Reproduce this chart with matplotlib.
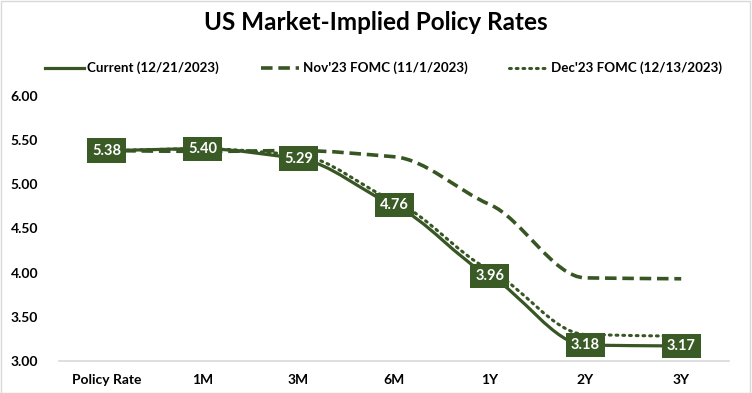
import matplotlib
matplotlib.use("Agg")
import matplotlib.pyplot as plt
from matplotlib.path import Path
from matplotlib.patches import PathPatch
from matplotlib.lines import Line2D
import numpy as np

plt.rcParams['font.family'] = ['Lato', 'DejaVu Sans']

categories = ["Policy Rate", "1M", "3M", "6M", "1Y", "2Y", "3Y"]
current = [5.38, 5.40, 5.29, 4.76, 3.96, 3.18, 3.17]
nov23 = [5.38, 5.37, 5.38, 5.31, 4.77, 3.94, 3.93]
dec23 = [5.38, 5.40, 5.33, 4.81, 4.03, 3.30, 3.28]
yticks = [3.00, 3.50, 4.00, 4.50, 5.00, 5.50, 6.00]

GREEN = "#375623"
BOX = "#3a5a26"

fig = plt.figure(figsize=(7.52, 3.93), dpi=100)
fig.patch.set_facecolor("white")
ax = fig.add_axes([0.0785, 0.0814, 0.891, 0.675])


def smooth_path(xs, ys, k=0.7):
    """Monotone (Fritsch-Carlson) cubic Bezier path, tangents scaled by k."""
    xs = np.asarray(xs, float)
    ys = np.asarray(ys, float)
    n = len(xs)
    d = np.diff(ys) / np.diff(xs)
    m = np.zeros(n)
    m[0], m[-1] = d[0], d[-1]
    for i in range(1, n - 1):
        if d[i - 1] * d[i] <= 0:
            m[i] = 0.0
        else:
            m[i] = 2.0 / (1.0 / d[i - 1] + 1.0 / d[i])
    m *= k
    verts = [(xs[0], ys[0])]
    codes = [Path.MOVETO]
    for i in range(n - 1):
        h = xs[i + 1] - xs[i]
        c1 = (xs[i] + h / 3, ys[i] + m[i] * h / 3)
        c2 = (xs[i + 1] - h / 3, ys[i + 1] - m[i + 1] * h / 3)
        verts += [c1, c2, (xs[i + 1], ys[i + 1])]
        codes += [Path.CURVE4] * 3
    return Path(verts, codes)


x = np.arange(len(categories))
styles = [
    (nov23, dict(linestyle=(0, (3.2, 1.6)), linewidth=2.6)),
    (dec23, dict(linestyle=(0, (0.6, 1.6)), linewidth=2.2, capstyle='round')),
    (current, dict(linestyle='-', linewidth=2.3)),
]
for vals, st in styles:
    p = PathPatch(smooth_path(x, vals), facecolor='none', edgecolor=GREEN, zorder=3, **st)
    ax.add_patch(p)

for xi, v in zip(x, current):
    ax.text(xi, v, f"{v:.2f}", ha='center', va='center', color='white',
            fontsize=10.5, fontweight='bold', zorder=5,
            bbox=dict(boxstyle='square,pad=0.35', facecolor=BOX, edgecolor='none'))

ax.set_xlim(-0.5, len(categories) - 0.5)
ax.set_ylim(3.0, 6.0)
ax.set_yticks(yticks)
ax.set_yticklabels([f"{t:.2f}" for t in yticks], fontsize=10, fontweight='bold')
ax.set_xticks(x)
ax.set_xticklabels(categories, fontsize=10, fontweight='bold')
for s in ['top', 'right', 'left']:
    ax.spines[s].set_visible(False)
ax.spines['bottom'].set_color('#d9d9d9')
ax.spines['bottom'].set_linewidth(1.2)
ax.tick_params(axis='both', length=0, pad=9)
ax.tick_params(axis='y', pad=15)

fig.text(0.5, 0.944, "US Market-Implied Policy Rates", ha='center', va='center',
         fontsize=17.5, fontweight='bold')

handles = [
    Line2D([], [], color=GREEN, linewidth=2.3, linestyle='-'),
    Line2D([], [], color=GREEN, linewidth=2.6, linestyle=(0, (3.2, 1.6))),
    Line2D([], [], color=GREEN, linewidth=2.2, linestyle=(0, (0.6, 1.6)), dash_capstyle='round'),
]
labels = ["Current (12/21/2023)", "Nov'23 FOMC (11/1/2023)", "Dec'23 FOMC (12/13/2023)"]
fig.legend(handles, labels, loc='center', bbox_to_anchor=(0.51, 0.827), ncol=3,
           frameon=False, prop=dict(size=9.6, weight='bold'), handlelength=2.9,
           handletextpad=0.25, columnspacing=3.1)

fig.add_artist(plt.Rectangle((0.001, 0.001), 0.997, 0.997, transform=fig.transFigure,
                             fill=False, edgecolor='#d9d9d9', linewidth=1))

fig.savefig("out.png", dpi=100, facecolor='white')
